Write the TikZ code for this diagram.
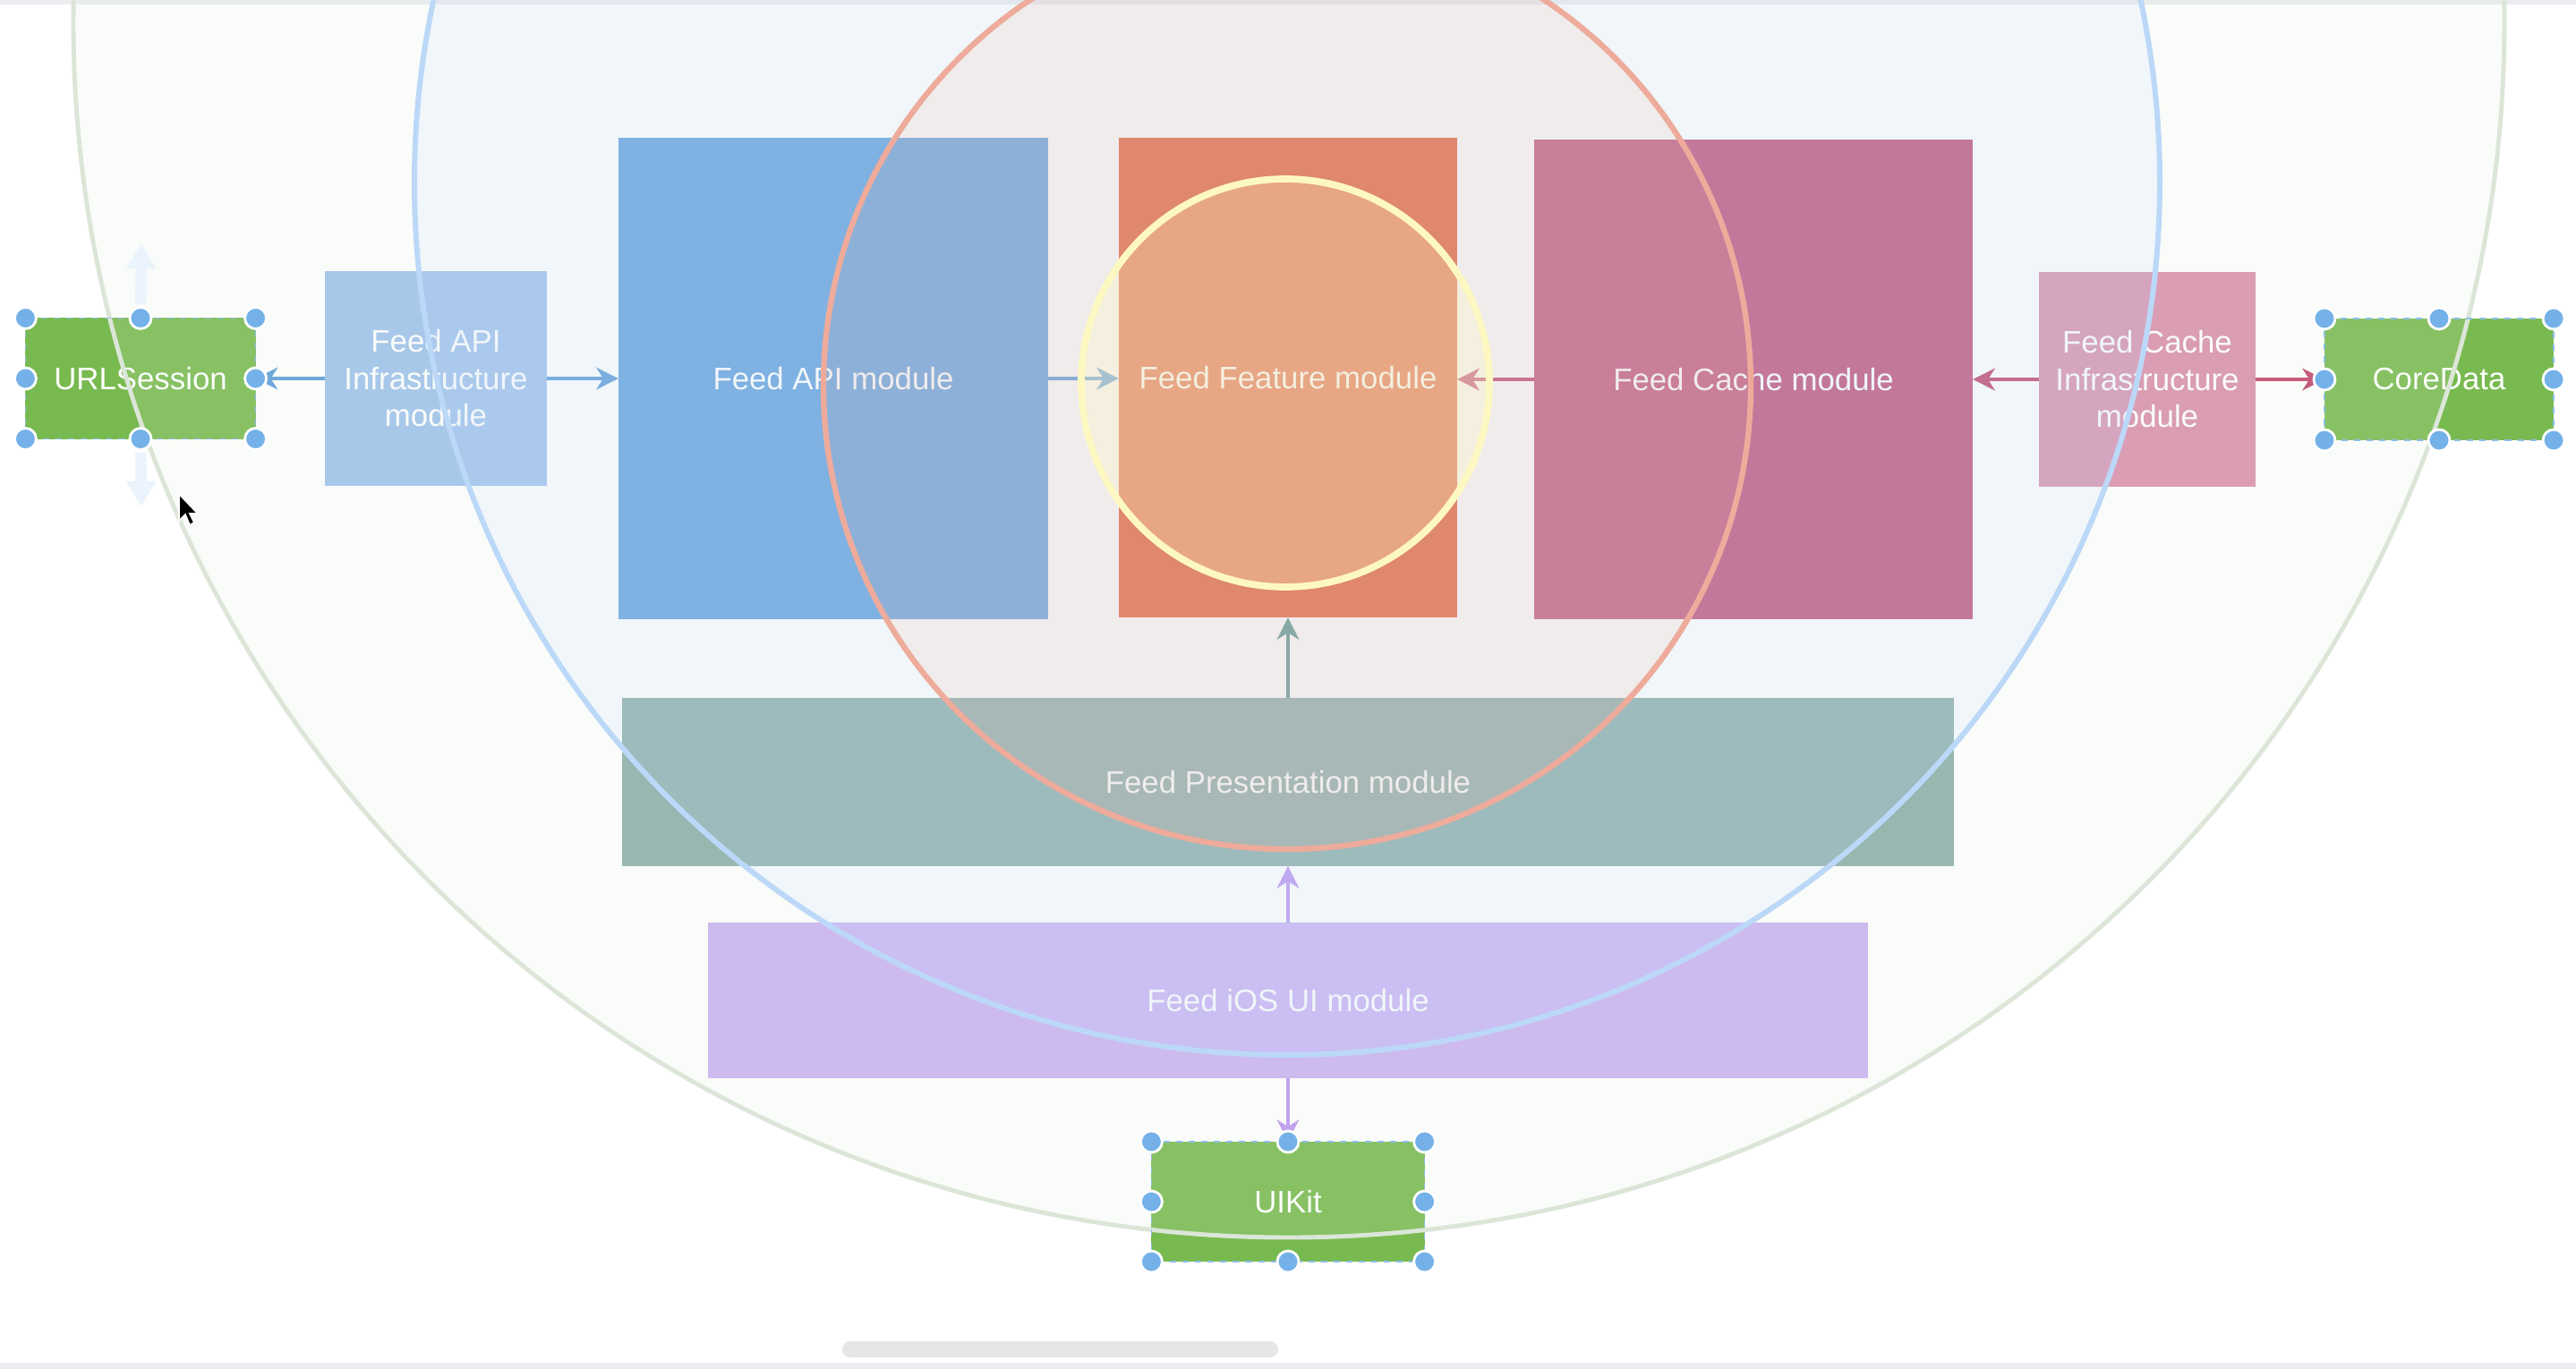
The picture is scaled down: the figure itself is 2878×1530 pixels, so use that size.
\documentclass[tikz,border=0pt]{standalone}
\usepackage{fontspec}
\setmainfont{Liberation Sans}
\usetikzlibrary{arrows.meta}
\definecolor{greenbox}{HTML}{78BA50}
\definecolor{apiinfracol}{HTML}{9FC3EE}
\definecolor{apicol}{HTML}{63A2DF}
\definecolor{featurecol}{HTML}{E46038}
\definecolor{cachecol}{HTML}{C1537D}
\definecolor{cacheinfracol}{HTML}{DA90AF}
\definecolor{prescol}{HTML}{8CAFAB}
\definecolor{ioscol}{HTML}{CBB3F5}
\definecolor{apiarrowcol}{HTML}{5B9DDA}
\definecolor{cachearrowcol}{HTML}{C2436B}
\definecolor{presarrowcol}{HTML}{5B978E}
\definecolor{iosarrowcol}{HTML}{BE96F1}
\definecolor{greenfill}{HTML}{DEEBD7}
\definecolor{greenline}{HTML}{DCE6D8}
\definecolor{bluefill}{HTML}{BDD4FF}
\definecolor{blueline}{HTML}{BCD8F8}
\definecolor{redfill}{HTML}{F2AA98}
\definecolor{redline}{HTML}{EEAB9B}
\definecolor{yellowfill}{HTML}{FFFABE}
\definecolor{yellowline}{HTML}{FDF8C2}
\definecolor{handlecol}{HTML}{74B1E8}
\definecolor{selcol}{HTML}{8DBDE9}
\definecolor{ghostcol}{HTML}{EBF3FC}
\definecolor{barcol}{HTML}{ECEDF0}
\definecolor{scrollcol}{HTML}{E6E6E6}
\newcommand{\modfont}{\fontsize{9.9pt}{11.8pt}\selectfont}
\begin{document}
\begin{tikzpicture}[x=0.01cm,y=-0.01cm,
  mod/.style={rectangle, inner sep=0pt, outer sep=0pt, text=white, font=\modfont, align=center},
  conn/.style={line width=1.4pt, -{Stealth[length=7pt,width=7pt,inset=2.2pt]}},
  ring/.style={line width=#1},
  handle/.style={fill=handlecol, draw=white, line width=0.8pt},
  seldash/.style={draw=selcol, line width=0.5pt, dash pattern=on 2pt off 2pt},
  ghost/.style={draw=ghostcol, line width=3.5pt, -{Triangle[length=8pt,width=9pt]}}
]
\useasboundingbox (0,0) rectangle (2878,1530);
\clip (0,0) rectangle (2878,1530);
\fill[white] (0,0) rectangle (2878,1530);
\fill[barcol] (0,0) rectangle (2878,5);
\fill[barcol] (0,1523) rectangle (2878,1530);
\fill[scrollcol, rounded corners=2.5pt] (941,1499) rectangle (1428,1517);

% modules
\node[mod, fill=greenbox, minimum width=2.57cm, minimum height=1.35cm] (url) at (157,423) {URLSession};
\node[mod, fill=apiinfracol, minimum width=2.48cm, minimum height=2.39cm] (apiinfra) at (487,423) {Feed API\\Infrastructure\\module};
\node[mod, fill=apicol, minimum width=4.80cm, minimum height=5.38cm] (api) at (931,423) {Feed API module};
\node[mod, fill=featurecol, minimum width=3.78cm, minimum height=5.36cm] (feature) at (1439,422) {Feed Feature module};
\node[mod, fill=cachecol, minimum width=4.90cm, minimum height=5.36cm] (cache) at (1959,424) {Feed Cache module};
\node[mod, fill=cacheinfracol, minimum width=2.42cm, minimum height=2.39cm] (cacheinfra) at (2399,424) {Feed Cache\\Infrastructure\\module};
\node[mod, fill=greenbox, minimum width=2.56cm, minimum height=1.36cm] (coredata) at (2725,424) {CoreData};
\node[mod, fill=prescol, minimum width=14.87cm, minimum height=1.88cm] (pres) at (1439,874) {Feed Presentation module};
\node[mod, fill=ioscol, minimum width=12.96cm, minimum height=1.73cm] (ios) at (1439,1118) {Feed iOS UI module};
\node[mod, fill=greenbox, minimum width=3.05cm, minimum height=1.34cm] (uikit) at (1439,1343) {UIKit};

% connectors
\draw[conn, draw=apiarrowcol, fill=apiarrowcol] (apiinfra.west) -- (apiinfra.west -| url.east);
\draw[conn, draw=apiarrowcol, fill=apiarrowcol] (apiinfra.east) -- (apiinfra.east -| api.west);
\draw[conn, draw=apiarrowcol, fill=apiarrowcol] (api.east) -- (api.east -| feature.west);
\draw[conn, draw=cachearrowcol, fill=cachearrowcol] (cache.west) -- (cache.west -| feature.east);
\draw[conn, draw=cachearrowcol, fill=cachearrowcol] (cacheinfra.west) -- (cacheinfra.west -| cache.east);
\draw[conn, draw=cachearrowcol, fill=cachearrowcol] (cacheinfra.east) -- (cacheinfra.east -| coredata.west);
\draw[conn, draw=presarrowcol, fill=presarrowcol] (pres.north) -- (feature.south);
\draw[conn, draw=iosarrowcol, fill=iosarrowcol] (ios.north) -- (pres.south);
\draw[conn, draw=iosarrowcol, fill=iosarrowcol] (ios.south) -- (uikit.north);

% translucent rings
\path[draw=greenline, ring=1.4pt, fill=greenfill, fill opacity=0.15] (1440,25) circle [radius=1358];
\path[draw=blueline, ring=1.7pt, fill=bluefill, fill opacity=0.15] (1438,204) circle [radius=975];
\path[draw=redline, ring=1.8pt, fill=redfill, fill opacity=0.13] (1438,431) circle [radius=518];
\path[draw=yellowline, ring=2.2pt, fill=yellowfill, fill opacity=0.27] (1436,428) circle [radius=228];

% ghost hover arrows
\coordinate (ghostup) at (158,272);
\coordinate (ghostdown) at (158,566);
\draw[ghost, shorten <=4.3pt] (url.north) -- (ghostup);
\draw[ghost, shorten <=4.3pt] (url.south) -- (ghostdown);

% selection outlines and handles
\foreach \n in {url,coredata,uikit}{
  \draw[seldash] (\n.north west) rectangle (\n.south east);
  \foreach \a in {north west,north,north east,east,south east,south,south west,west}{
    \path[handle] (\n.\a) circle [radius=12];
  }
}

% mouse pointer
\filldraw[fill=black, draw=white, line width=0.5pt, shift={(200,552)}]
  (0,0) -- (0,30) -- (7,23) -- (12,35) -- (17,32) -- (12,22) -- (21,22) -- cycle;
\end{tikzpicture}
\end{document}
